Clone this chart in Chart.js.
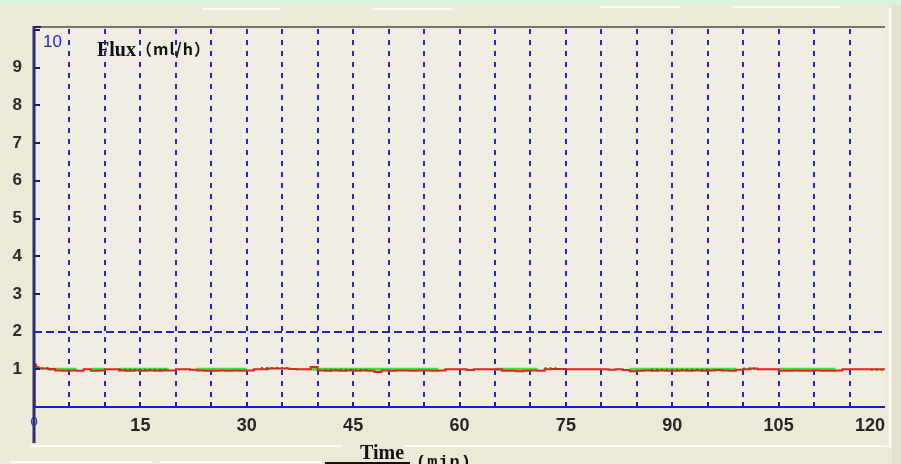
<!DOCTYPE html>
<html>
<head>
<meta charset="utf-8">
<script src="https://cdn.jsdelivr.net/npm/chart.js@4.4.1/dist/chart.umd.min.js"></script>
<style>
  html, body { margin: 0; padding: 0; background: #ECE9D8; }
  #wrap { width: 901px; height: 464px; }
</style>
</head>
<body>
<div id="wrap"><canvas id="c" width="901" height="464"></canvas></div>
<script>
// ---- Data ----
const times = [0, 0.1, 0.3, 0.6,
  1, 2, 3, 4, 5, 6, 7, 8, 9, 10,
  11, 12, 13, 14, 15, 16, 17, 18, 19, 20,
  21, 22, 23, 24, 25, 26, 27, 28, 29, 30,
  31, 32, 33, 34, 35, 36, 37, 38, 39, 40,
  41, 42, 43, 44, 45, 46, 47, 48, 49, 50,
  51, 52, 53, 54, 55, 56, 57, 58, 59, 60,
  61, 62, 63, 64, 65, 66, 67, 68, 69, 70,
  71, 72, 73, 74, 75, 76, 77, 78, 79, 80,
  81, 82, 83, 84, 85, 86, 87, 88, 89, 90,
  91, 92, 93, 94, 95, 96, 97, 98, 99, 100,
  101, 102, 103, 104, 105, 106, 107, 108, 109, 110,
  111, 112, 113, 114, 115, 116, 117, 118, 119, 120];

const fluxRed = [0, 1.13, 1.06, 1.03,
  1.02, 1.01, 0.97, 0.96, 0.97, 0.96, 1.00, 0.96, 0.97, 1.00,
  1.00, 0.97, 0.96, 0.97, 0.96, 0.97, 0.96, 0.97, 0.97, 1.00,
  1.00, 0.99, 0.97, 0.96, 0.96, 0.97, 0.96, 0.97, 0.96, 0.97,
  1.00, 1.00, 1.02, 1.02, 1.02, 1.01, 1.00, 1.00, 1.06, 0.97,
  0.96, 0.97, 0.96, 0.97, 0.96, 0.97, 0.96, 0.93, 0.97, 0.96,
  0.97, 0.97, 0.96, 0.97, 0.97, 0.96, 0.97, 1.00, 1.00, 1.00,
  0.98, 1.00, 1.00, 1.00, 1.00, 0.96, 0.96, 0.95, 0.96, 0.97,
  0.96, 1.00, 1.01, 1.01, 1.00, 1.00, 1.00, 1.00, 1.00, 1.00,
  0.99, 1.00, 0.98, 0.95, 0.96, 0.97, 0.96, 0.97, 0.96, 0.96,
  0.97, 0.96, 0.97, 0.96, 0.97, 0.98, 0.97, 0.96, 0.99, 1.00,
  1.02, 1.00, 1.00, 1.00, 0.96, 0.96, 0.97, 0.96, 0.96, 0.97,
  0.96, 0.96, 0.97, 1.00, 1.00, 1.00, 1.00, 1.00, 1.00, 0.99];

const fluxGreen = [null, null, null, null,
  null, 1.0, 1.0, 1.0, 1.0, 1.0, null, 1.0, 1.0, 1.0,
  null, 1.0, 1.0, 1.0, 1.0, 1.0, 1.0, 1.0, 1.0, null,
  null, null, 1.0, 1.0, 1.0, 1.0, 1.0, 1.0, 1.0, 1.0,
  null, null, null, null, null, null, null, null, 1.0, 1.0,
  1.0, 1.0, 1.0, 1.0, 1.0, 1.0, 1.0, 1.0, 1.0, 1.0,
  1.0, 1.0, 1.0, 1.0, 1.0, 1.0, 1.0, null, null, null,
  null, null, null, null, 1.0, 1.0, 1.0, 1.0, 1.0, 1.0,
  1.0, null, null, null, null, null, null, null, null, null,
  null, null, null, 1.0, 1.0, 1.0, 1.0, 1.0, 1.0, 1.0,
  1.0, 1.0, 1.0, 1.0, 1.0, 1.0, 1.0, 1.0, 1.0, null,
  null, null, null, null, 1.0, 1.0, 1.0, 1.0, 1.0, 1.0,
  1.0, 1.0, 1.0, null, null, null, null, null, null, null];

const fluxBrown = [null, null, 1.03, 1.03,
  1.03, 1.03, null, null, null, null, null, null, null, null,
  null, 0.985, 0.985, 0.985, 0.985, 0.985, 0.985, 0.985, 0.985, null,
  null, null, null, null, null, null, null, null, null, null,
  null, 1.035, 1.035, 1.035, 1.035, 1.035, null, null, null, null,
  0.985, 0.985, 0.985, 0.985, 0.985, 0.985, 0.985, null, null, null,
  null, null, null, null, null, null, null, null, null, null,
  null, null, null, null, null, null, null, null, null, null,
  null, 1.03, 1.03, 1.03, null, null, null, null, null, null,
  null, null, null, null, null, null, 0.985, 0.985, 0.985, 0.985,
  0.985, 0.985, 0.985, 0.985, 0.985, null, null, null, null, 1.02,
  1.02, 1.02, null, null, null, null, null, null, null, null,
  null, null, null, null, null, null, null, 0.985, 0.985, 0.985];

const yTickValues = [1, 2, 3, 4, 5, 6, 7, 8, 9];
const xLabelValues = [0, 15, 30, 45, 60, 75, 90, 105, 120];
const xGridValues = [5, 10, 15, 20, 25, 30, 35, 40, 45, 50, 55, 60, 65, 70, 75, 80, 85, 90, 95, 100, 105, 110, 115];
const yGridValues = [2];
const yTopLabel = '10';
const chartTitle = 'Flux';
const chartTitleUnit = '（ml/h）';
const xTitle = 'Time';
const xTitleUnit = '(min)';

function pts(vals) { return times.map((t, i) => ({ x: t, y: vals[i] })); }

const decor = {
  id: 'decor',
  beforeDraw(chart) {
    const { ctx, chartArea: a } = chart;
    ctx.save();
    ctx.fillStyle = '#ECE9D8';
    ctx.fillRect(0, 0, 901, 464);
    ctx.fillStyle = '#DDF0DC';
    ctx.fillRect(0, 0, 901, 5);
    ctx.fillStyle = '#E5E1CF';
    ctx.fillRect(892, 5, 9, 459);
    ctx.fillStyle = '#FBFBF6';
    ctx.fillRect(889, 8, 2, 440);
    ctx.fillStyle = '#EFECE1';
    ctx.fillRect(a.left, a.top, a.right - a.left, a.bottom - a.top);
    ctx.strokeStyle = '#FAFAF4';
    ctx.lineWidth = 2;
    const segs = [[30, 446, 342], [405, 446, 887], [10, 462, 153], [160, 462, 322],
                  [202, 9, 280], [373, 9, 452], [600, 7, 680], [733, 7, 840]];
    segs.forEach(([x1, y, x2]) => { ctx.beginPath(); ctx.moveTo(x1, y); ctx.lineTo(x2, y); ctx.stroke(); });
    ctx.restore();
  },
  beforeDatasetsDraw(chart) {
    const { ctx, chartArea: a, scales: { x, y } } = chart;
    ctx.save();
    ctx.strokeStyle = '#2626B4';
    ctx.lineWidth = 2;
    ctx.setLineDash([5, 6]);
    xGridValues.forEach(v => {
      const px = Math.round(x.getPixelForValue(v));
      ctx.beginPath(); ctx.moveTo(px, a.top + 2); ctx.lineTo(px, a.bottom); ctx.stroke();
    });
    ctx.setLineDash([8, 4]);
    yGridValues.forEach(v => {
      const py = Math.round(y.getPixelForValue(v));
      ctx.beginPath(); ctx.moveTo(a.left, py); ctx.lineTo(a.right, py); ctx.stroke();
    });
    ctx.restore();
  },
  afterDatasetsDraw(chart) {
    const { ctx, chartArea: a, scales: { x, y } } = chart;
    ctx.save();
    ctx.strokeStyle = '#76766C'; ctx.lineWidth = 2;
    ctx.beginPath(); ctx.moveTo(a.left, a.top); ctx.lineTo(a.right, a.top); ctx.stroke();
    ctx.strokeStyle = '#1818E0'; ctx.lineWidth = 2;
    ctx.beginPath(); ctx.moveTo(a.left, a.bottom); ctx.lineTo(a.right, a.bottom); ctx.stroke();
    xGridValues.forEach(v => {
      const px = Math.round(x.getPixelForValue(v));
      ctx.beginPath(); ctx.moveTo(px, a.bottom); ctx.lineTo(px, a.bottom - 5); ctx.stroke();
    });
    ctx.strokeStyle = '#1E1E50'; ctx.lineWidth = 2;
    yTickValues.concat([10]).forEach(v => {
      if (yGridValues.includes(v)) return;
      const py = Math.round(y.getPixelForValue(v));
      ctx.beginPath(); ctx.moveTo(a.left, py); ctx.lineTo(a.left + 6, py); ctx.stroke();
    });
    ctx.beginPath(); ctx.moveTo(a.left, a.top); ctx.lineTo(a.left + 7, a.top); ctx.stroke();
    ctx.strokeStyle = '#2C2C74'; ctx.lineWidth = 3;
    ctx.beginPath(); ctx.moveTo(a.left, a.top - 1); ctx.lineTo(a.left, 443); ctx.stroke();
    ctx.restore();
  },
  afterDraw(chart) {
    const { ctx, chartArea: a } = chart;
    ctx.save();
    ctx.textBaseline = 'alphabetic';
    ctx.fillStyle = '#2222C8';
    ctx.font = '17px "Liberation Sans", Arial, sans-serif';
    ctx.fillText(yTopLabel, a.left + 9, 47);
    ctx.fillStyle = '#111';
    ctx.font = 'bold 20px "Liberation Serif", "Times New Roman", serif';
    ctx.fillText(chartTitle, 97, 56);
    ctx.font = 'bold 16px "Noto Sans CJK SC", sans-serif';
    if ('letterSpacing' in ctx) ctx.letterSpacing = '1px';
    ctx.fillText(chartTitleUnit, 136, 55);
    if ('letterSpacing' in ctx) ctx.letterSpacing = '0px';
    ctx.font = 'bold 20px "Liberation Serif", "Times New Roman", serif';
    ctx.fillText(xTitle, 360, 459);
    ctx.font = 'bold 17px "Liberation Mono", "DejaVu Sans Mono", monospace';
    if ('letterSpacing' in ctx) ctx.letterSpacing = '1px';
    ctx.fillText(xTitleUnit, 416, 467);
    ctx.strokeStyle = '#111'; ctx.lineWidth = 2;
    ctx.beginPath(); ctx.moveTo(325, 463); ctx.lineTo(410, 463); ctx.stroke();
    ctx.restore();
  }
};

new Chart(document.getElementById('c'), {
  type: 'line',
  data: {
    datasets: [
      { label: 'b', data: pts(fluxBrown), borderColor: '#6E5A10', borderWidth: 2, borderDash: [2, 3],
        pointRadius: 0, stepped: true, spanGaps: false, order: 0 },
      { label: 'r', data: pts(fluxRed), borderColor: '#E42222', borderWidth: 2,
        pointRadius: 0, stepped: true, order: 1,
        segment: { borderColor: c => c.p0DataIndex === 0 ? '#C21CC2' : undefined } },
      { label: 'g', data: pts(fluxGreen), borderColor: '#44E044', borderWidth: 3,
        pointRadius: 0, stepped: true, spanGaps: false, order: 2 }
    ]
  },
  options: {
    responsive: false,
    animation: false,
    events: [],
    layout: { padding: { top: 27, right: 16, left: 0, bottom: 0 } },
    plugins: { legend: { display: false }, tooltip: { enabled: false }, title: { display: false } },
    scales: {
      x: {
        type: 'linear', min: 0, max: 120,
        grid: { display: false, drawTicks: false },
        border: { display: false },
        afterFit: s => { s.height = 57; s.paddingLeft = 0; s.paddingRight = 0; },
        afterBuildTicks: s => { s.ticks = xLabelValues.map(v => ({ value: v })); },
        ticks: {
          autoSkip: false, maxRotation: 0, padding: 8,
          callback: (v, i, arr) => i === arr.length - 1 ? String(v) + '\u2007\u2007\u2007' : String(v),
          color: c => (c.tick && c.tick.value === 0) ? '#2222C8' : '#262626',
          font: c => (c.tick && c.tick.value === 0) ? { size: 13, family: '"Liberation Sans", Arial, sans-serif' }
                                                    : { size: 18, weight: 'bold', family: '"Liberation Sans", Arial, sans-serif' }
        }
      },
      y: {
        type: 'linear', min: 0, max: 10.08,
        grid: { display: false, drawTicks: false },
        border: { display: false },
        afterFit: s => { s.width = 34; s.paddingTop = 0; s.paddingBottom = 0; },
        afterBuildTicks: s => { s.ticks = yTickValues.map(v => ({ value: v })); },
        ticks: {
          padding: 12, color: '#2a2a2a',
          font: { size: 17, weight: 'bold', family: '"Liberation Sans", Arial, sans-serif' }
        }
      }
    }
  },
  plugins: [decor]
});
</script>
</body>
</html>
